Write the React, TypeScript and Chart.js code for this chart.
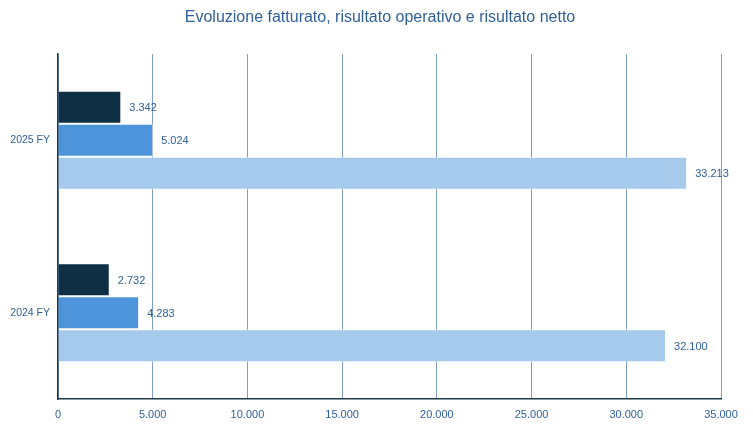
import { useEffect, useRef } from 'react'
import { Chart, registerables } from 'chart.js'

Chart.register(...registerables)

const titleText = 'Evoluzione fatturato, risultato operativo e risultato netto'
const categories = ['2025 FY', '2024 FY']
const seriesNames = ['Risultato netto', 'Risultato operativo', 'Fatturato']
const risultatoNetto = [3342, 2732]
const risultatoOperativo = [5024, 4283]
const fatturato = [33213, 32100]
const seriesColors = ['#0E2F44', '#4E94DA', '#A6CAEC']

const textColor = '#2F5F9A'

function fmt(v: number) {
  return String(Math.round(v)).replace(/\B(?=(\d{3})+(?!\d))/g, '.')
}

const valueLabels = {
  id: 'valueLabels',
  afterDatasetsDraw(chart: any) {
    const ctx = chart.ctx
    ctx.save()
    ctx.font = '11px "Liberation Sans", Arial, sans-serif'
    ctx.fillStyle = textColor
    ctx.textAlign = 'left'
    ctx.textBaseline = 'middle'
    chart.data.datasets.forEach((ds: any, i: number) => {
      const meta = chart.getDatasetMeta(i)
      meta.data.forEach((bar: any, j: number) => {
        ctx.fillText(fmt(ds.data[j]), bar.x + 8, bar.y + 1)
      })
    })
    ctx.restore()
  }
}

// title drawn by hand: it sits a bit right of the canvas centre
const titlePlugin = {
  id: 'titleText',
  afterDraw(chart: any) {
    const ctx = chart.ctx
    ctx.save()
    ctx.font = '16px "Liberation Sans Narrow", "Liberation Sans", sans-serif'
    ctx.fillStyle = textColor
    ctx.textAlign = 'center'
    ctx.textBaseline = 'middle'
    ctx.fillText(titleText, 380, 18)
    ctx.restore()
  }
}

export default function App() {
  const chartRef = useRef<HTMLCanvasElement>(null)
  const chartInstance = useRef<Chart | null>(null)

  useEffect(() => {
    document.body.style.margin = '0'
    if (!chartRef.current) return
    if (chartInstance.current) chartInstance.current.destroy()
    const ctx = chartRef.current.getContext('2d')
    if (!ctx) return

    const values = [risultatoNetto, risultatoOperativo, fatturato]

    chartInstance.current = new Chart(ctx, {
      type: 'bar',
      data: {
        labels: categories,
        datasets: seriesNames.map((name, i) => ({
          label: name,
          data: values[i],
          backgroundColor: seriesColors[i],
          borderColor: 'rgba(255,255,255,0.6)',
          borderWidth: 1,
          categoryPercentage: 0.574,
          barPercentage: 1
        }))
      },
      options: {
        indexAxis: 'y',
        responsive: false,
        animation: false,
        layout: { padding: { left: 0, right: 32, top: 54, bottom: 0 } },
        plugins: {
          legend: { display: false },
          tooltip: { enabled: false },
          title: { display: false }
        },
        scales: {
          x: {
            min: 0,
            max: 35000,
            ticks: {
              stepSize: 5000,
              color: textColor,
              padding: 9,
              font: { family: '"Liberation Sans", Arial, sans-serif', size: 11 },
              callback: (v: any) => fmt(Number(v))
            },
            grid: { color: '#7F9CC5', lineWidth: 1, drawTicks: false },
            border: { color: '#1C3A4A', width: 1.5 },
            afterFit: (scale: any) => { scale.height = 27 }
          },
          y: {
            ticks: {
              color: textColor,
              padding: 8,
              font: { family: '"Liberation Sans", Arial, sans-serif', size: 10.5 }
            },
            grid: { display: false, drawTicks: false },
            border: { color: '#1C3A4A', width: 1.5 },
            afterFit: (scale: any) => { scale.width = 58 }
          }
        }
      },
      plugins: [valueLabels, titlePlugin]
    })

    return () => {
      if (chartInstance.current) {
        chartInstance.current.destroy()
        chartInstance.current = null
      }
    }
  }, [])

  return (
    <div style={{ width: 753, height: 426, background: '#fff' }}>
      <canvas ref={chartRef} width={753} height={426} />
    </div>
  )
}
